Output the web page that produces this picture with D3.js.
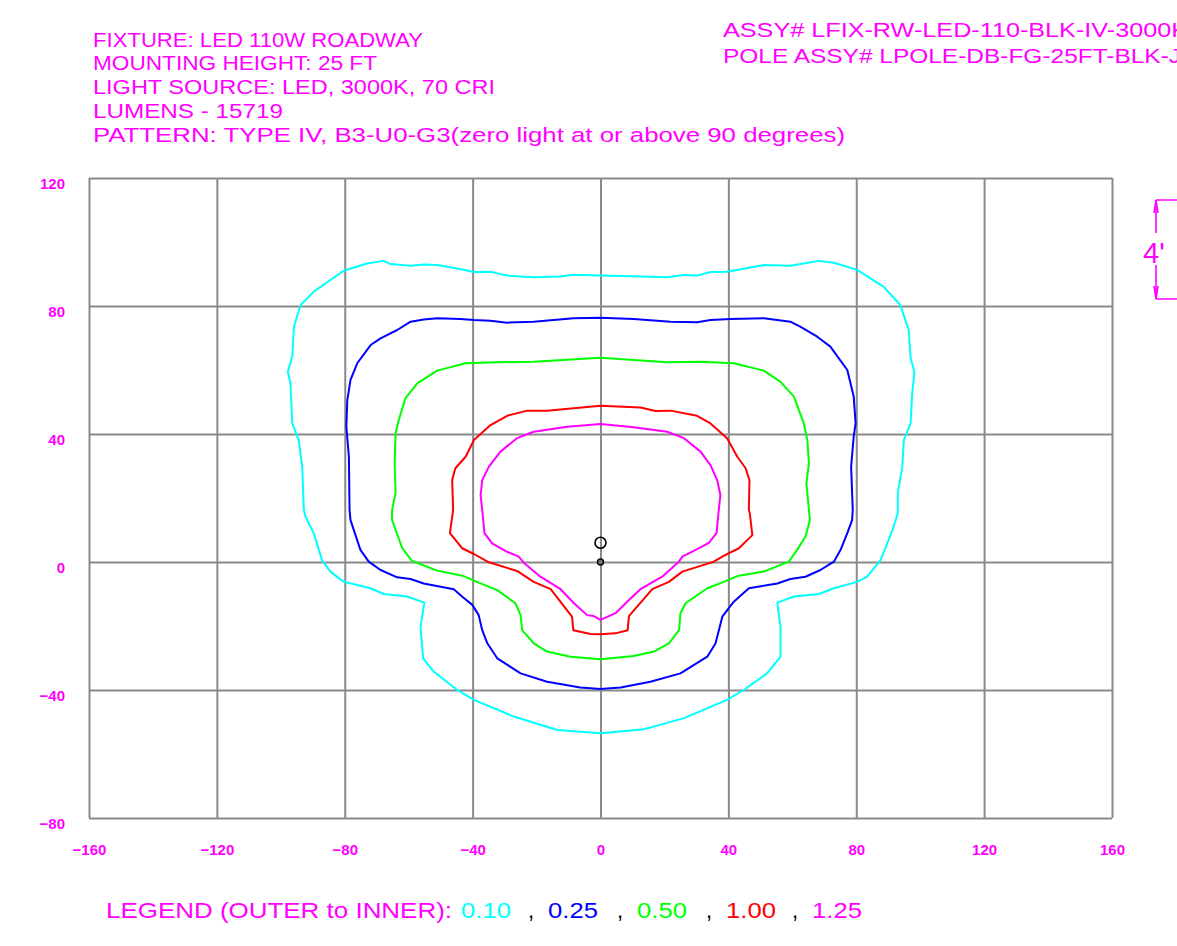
<!DOCTYPE html>
<html>
<head>
<meta charset="utf-8">
<script src="https://cdn.jsdelivr.net/npm/d3@7"></script>
<style>
  body { margin: 0; background: #fff; }
  text { font-family: "Liberation Sans", Arial, sans-serif; }
</style>
</head>
<body>
<div id="chart"></div>
<script>
const headerLines = [
  "FIXTURE: LED 110W ROADWAY",
  "MOUNTING HEIGHT: 25 FT",
  "LIGHT SOURCE: LED, 3000K, 70 CRI",
  "LUMENS - 15719",
  "PATTERN: TYPE IV, B3-U0-G3(zero light at or above 90 degrees)"
];
const assyLines = [
  "ASSY# LFIX-RW-LED-110-BLK-IV-3000K",
  "POLE ASSY# LPOLE-DB-FG-25FT-BLK-J"
];
const xTicks = [-160, -120, -80, -40, 0, 40, 80, 120, 160];
const yTicks = [-80, -40, 0, 40, 80, 120];
const levels = ["0.10", "0.25", "0.50", "1.00", "1.25"];
const levelColors = ["#00ffff", "#0000ff", "#00ff00", "#ff0000", "#ff00ff"];
const pole = [0, 6];

// footcandle isolines, x/y in feet, traced clockwise from top centre
const iso010 = [
  [0,89.5],[12.5,89.2],[20.9,89.0],[26.1,89.7],[30.2,89.5],[34.4,90.6],[39.6,90.7],[51.1,92.8],[59.4,92.6],
  [68.3,94.1],[73.0,93.5],[80.3,91.3],[88.6,86.0],[93.8,80.3],[96.4,72.5],[97.0,63.8],[98.2,59.2],[97.5,52.7],
  [97.0,43.3],[94.9,38.1],[94.4,29.8],[93.0,21.5],[93.0,15.3],[91.7,11.0],[89.7,5.8],[87.6,0.6],[83.4,-4.6],
  [80.3,-6.2],[73.0,-8.2],[68.3,-10.0],[60.5,-10.8],[55.3,-12.7],[56.3,-20.2],[56.3,-29.6],[52.1,-34.8],
  [44.8,-40.0],[39.6,-43.1],[26.1,-48.8],[13.5,-52.3],[0,-53.5],
  [-13.5,-52.5],[-27.1,-48.3],[-39.6,-43.1],[-44.8,-40.0],[-52.1,-34.3],[-55.5,-30.1],[-56.3,-20.2],
  [-55.1,-12.7],[-60.5,-10.8],[-67.8,-10.0],[-71.9,-8.2],[-80.3,-6.2],[-84.5,-3.0],[-87.1,0.6],[-89.7,9.0],
  [-92.3,14.2],[-92.8,16.3],[-93.3,29.8],[-94.4,38.1],[-96.4,43.3],[-97.0,55.8],[-97.8,59.5],[-96.4,64.2],
  [-95.9,73.5],[-93.8,80.3],[-89.7,84.5],[-80.3,91.0],[-73.0,93.3],[-67.8,94.1],[-65.7,93.1],[-59.4,92.6],
  [-55.3,93.0],[-51.1,92.8],[-42.8,91.3],[-39.6,90.6],[-34.4,90.7],[-29.2,89.5],[-20.9,89.0],[-12.5,89.2],[-8.4,89.8]
];
const iso025 = [
  [0,76.3],[10.4,75.9],[21.9,75.1],[30.2,74.9],[34.4,75.6],[40.7,75.9],[51.1,76.2],[59.4,75.1],[62.6,73.5],
  [67.8,70.4],[71.9,67.3],[77.2,60.0],[79.2,51.7],[79.8,43.3],[79.2,39.2],[78.4,29.8],[78.9,16.3],[78.7,13.1],
  [77.2,9.0],[75.1,3.8],[73.0,0.1],[68.8,-2.5],[64.1,-4.6],[59.4,-5.3],[55.3,-6.7],[46.4,-8.2],[41.7,-12.4],
  [38.1,-17.1],[36.0,-25.4],[33.4,-29.6],[25.0,-34.8],[15.6,-37.4],[6.3,-39.2],[0,-39.7],
  [-6.3,-39.2],[-16.7,-37.4],[-25.0,-34.8],[-32.3,-30.1],[-35.4,-25.4],[-37.0,-21.3],[-38.1,-16.6],
  [-40.1,-13.4],[-43.3,-10.8],[-45.9,-8.5],[-55.3,-6.7],[-59.4,-5.3],[-63.6,-4.8],[-68.8,-2.5],[-72.5,0.1],
  [-75.1,3.8],[-78.2,13.1],[-78.5,16.3],[-78.7,32.9],[-79.5,42.3],[-79.2,50.6],[-78.2,56.9],[-76.1,62.1],
  [-71.9,67.8],[-68.8,69.9],[-63.6,72.5],[-59.4,75.1],[-55.3,75.8],[-51.1,76.2],[-43.8,75.9],[-39.6,75.6],
  [-34.4,75.4],[-29.2,74.8],[-20.9,75.1],[-8.4,76.2]
];
const iso050 = [
  [0,63.8],[20.9,62.4],[31.3,62.6],[41.7,62.1],[51.1,59.8],[56.3,56.3],[60.5,51.7],[63.6,43.3],[64.7,38.1],
  [65.2,30.8],[64.4,24.6],[65.2,16.3],[65.5,13.1],[64.1,7.9],[61.5,3.8],[58.9,0.1],[51.1,-3.0],[42.8,-4.4],
  [38.6,-6.2],[33.4,-8.2],[26.6,-12.9],[25.0,-16.0],[24.6,-21.3],[21.4,-25.4],[16.7,-28.0],[10.4,-29.4],[0,-30.4],
  [-9.4,-29.6],[-16.7,-28.0],[-20.9,-25.4],[-24.5,-21.3],[-25.0,-16.6],[-26.6,-12.9],[-32.3,-8.8],[-37.5,-6.7],
  [-42.8,-4.4],[-51.1,-2.7],[-58.9,0.3],[-62.0,4.3],[-65.2,13.1],[-65.2,16.3],[-64.1,21.5],[-64.4,30.8],
  [-64.1,40.2],[-63.1,44.4],[-61.0,51.2],[-57.3,55.8],[-51.1,59.8],[-42.2,62.1],[-32.3,62.4],[-20.9,62.6]
];
const iso100 = [
  [0,48.8],[12.5,48.3],[17.2,47.2],[21.9,47.3],[30.2,45.7],[34.4,43.3],[39.6,38.7],[42.8,32.9],[45.4,29.3],
  [46.6,25.6],[46.4,16.3],[46.7,15.2],[47.5,8.4],[43.3,4.3],[39.1,2.2],[35.4,0.1],[31.3,-1.2],[25.6,-3.0],
  [21.4,-6.2],[16.2,-8.5],[8.9,-16.9],[8.5,-21.3],[4.7,-22.3],[0,-22.6],
  [-3.1,-22.5],[-8.5,-21.3],[-8.9,-17.1],[-15.6,-8.5],[-20.9,-6.2],[-26.1,-2.8],[-34.9,-0.1],[-39.6,2.5],
  [-43.3,4.3],[-47.1,9.0],[-46.1,16.3],[-46.4,25.6],[-45.4,29.3],[-42.2,32.9],[-39.6,38.1],[-34.4,42.8],
  [-29.2,45.7],[-22.9,47.3],[-16.7,47.3]
];
const iso125 = [
  [0,43.1],[10.4,42.1],[20.9,40.7],[26.1,38.7],[31.3,34.5],[34.4,30.3],[36.5,25.6],[37.5,20.9],[37.0,16.3],
  [36.3,9.0],[33.9,6.0],[30.2,4.0],[25.6,1.7],[24.5,0.1],[19.3,-4.6],[12.5,-8.5],[8.9,-11.9],[4.7,-16.0],
  [2.6,-16.9],[0,-18.1],
  [-2.1,-16.9],[-4.2,-16.6],[-8.3,-12.9],[-12.5,-8.5],[-18.8,-4.6],[-24.0,-0.2],[-25.6,1.7],[-29.2,3.2],
  [-33.9,5.8],[-36.3,9.0],[-37.0,16.3],[-37.5,20.9],[-37.0,25.6],[-34.9,29.8],[-31.3,34.5],[-26.1,38.7],
  [-20.9,40.7],[-10.4,42.3]
];

const width = 1177;
const height = 946;
const margin = {top: 178, right: 65, bottom: 128, left: 89};
const magenta = "#ff00ff";
const gridColor = "#8a8a8a";

const x = d3.scaleLinear()
  .domain([-160, 160])
  .range([margin.left, width - margin.right]);
const y = d3.scaleLinear()
  .domain([-80, 120])
  .range([height - margin.bottom, margin.top]);

const svg = d3.create("svg")
  .attr("width", width)
  .attr("height", height)
  .style("display", "block")
  .style("background", "#fff");

// grid via the axes
svg.append("g")
  .attr("transform", `translate(0,${height - margin.bottom})`)
  .call(d3.axisBottom(x)
    .tickValues(xTicks)
    .tickSize(-(height - margin.top - margin.bottom))
    .tickPadding(26))
  .call(g => g.select(".domain").remove())
  .call(g => g.selectAll(".tick line").attr("stroke", gridColor).attr("stroke-width", 2))
  .call(g => g.selectAll(".tick text")
    .attr("fill", magenta)
    .style("font", "bold 15px 'Liberation Sans', Arial, sans-serif"));

svg.append("g")
  .attr("transform", `translate(${margin.left},0)`)
  .call(d3.axisLeft(y)
    .tickValues(yTicks)
    .tickSize(-(width - margin.left - margin.right))
    .tickPadding(24))
  .call(g => g.select(".domain").remove())
  .call(g => g.selectAll(".tick line").attr("stroke", gridColor).attr("stroke-width", 2))
  .call(g => g.selectAll(".tick text")
    .attr("fill", magenta)
    .attr("dy", "0.73em")
    .style("font", "bold 15px 'Liberation Sans', Arial, sans-serif"));

const isolines = [iso010, iso025, iso050, iso100, iso125];
const line = d3.line()
  .x(d => x(d[0]))
  .y(d => y(d[1]))
  .curve(d3.curveLinearClosed);

svg.append("g")
  .attr("fill", "none")
  .attr("stroke-width", 2)
  .attr("stroke-linejoin", "round")
  .selectAll("path")
  .data(isolines)
  .join("path")
    .attr("stroke", (d, i) => levelColors[i])
    .attr("d", line);

// pole marker
svg.append("circle")
  .attr("cx", x(pole[0]))
  .attr("cy", y(pole[1]))
  .attr("r", 5.5)
  .attr("fill", "none")
  .attr("stroke", "#000")
  .attr("stroke-width", 1.6);
svg.append("circle")
  .attr("cx", x(pole[0]))
  .attr("cy", y(0))
  .attr("r", 3)
  .attr("fill", "#777")
  .attr("stroke", "#000")
  .attr("stroke-width", 1.4);

// header block
const headerWidths = [330, 284, 402, 190, 752];
svg.append("g")
  .attr("fill", magenta)
  .style("font-size", "20.5px")
  .selectAll("text")
  .data(headerLines)
  .join("text")
    .attr("x", 93)
    .attr("y", (d, i) => 46.7 + i * 23.75)
    .attr("textLength", (d, i) => headerWidths[i])
    .attr("lengthAdjust", "spacingAndGlyphs")
    .text(d => d);

svg.append("g")
  .attr("fill", magenta)
  .style("font-size", "20.5px")
  .selectAll("text")
  .data(assyLines)
  .join("text")
    .attr("x", 723)
    .attr("y", (d, i) => 36.7 + i * 26.5)
    .attr("textLength", (d, i) => [465, 458][i])
    .attr("lengthAdjust", "spacingAndGlyphs")
    .text(d => d);

// 4' scale marker at right
const sb = svg.append("g")
  .attr("stroke", magenta)
  .attr("stroke-width", 1.6)
  .attr("fill", "none");
sb.append("path").attr("d", "M1156,200H1177M1156,299H1177");
sb.append("path").attr("d", "M1156,200V233M1156,265V299");
sb.append("path").attr("d", "M1154,213L1156,200L1158,213M1154,286L1156,299L1158,286");
svg.append("text")
  .attr("x", 1143)
  .attr("y", 263)
  .attr("fill", magenta)
  .style("font-size", "29px")
  .text("4'");

// legend
const legendY = 918.3;
svg.append("text")
  .attr("x", 106)
  .attr("y", legendY)
  .attr("fill", magenta)
  .attr("textLength", 346)
  .attr("lengthAdjust", "spacingAndGlyphs")
  .style("font-size", "22px")
  .text("LEGEND (OUTER to INNER):");

const legendX = [461, 548, 637, 726, 812];
svg.append("g")
  .style("font-size", "22px")
  .selectAll("text")
  .data(levels)
  .join("text")
    .attr("x", (d, i) => legendX[i])
    .attr("y", legendY)
    .attr("fill", (d, i) => levelColors[i])
    .attr("textLength", 50)
    .attr("lengthAdjust", "spacingAndGlyphs")
    .text(d => d);

svg.append("g")
  .style("font-size", "22px")
  .selectAll("text")
  .data(levels.slice(1))
  .join("text")
    .attr("x", (d, i) => legendX[i + 1] - 20)
    .attr("y", legendY)
    .attr("fill", "#000")
    .text(",");

document.getElementById("chart").appendChild(svg.node());
</script>
</body>
</html>
